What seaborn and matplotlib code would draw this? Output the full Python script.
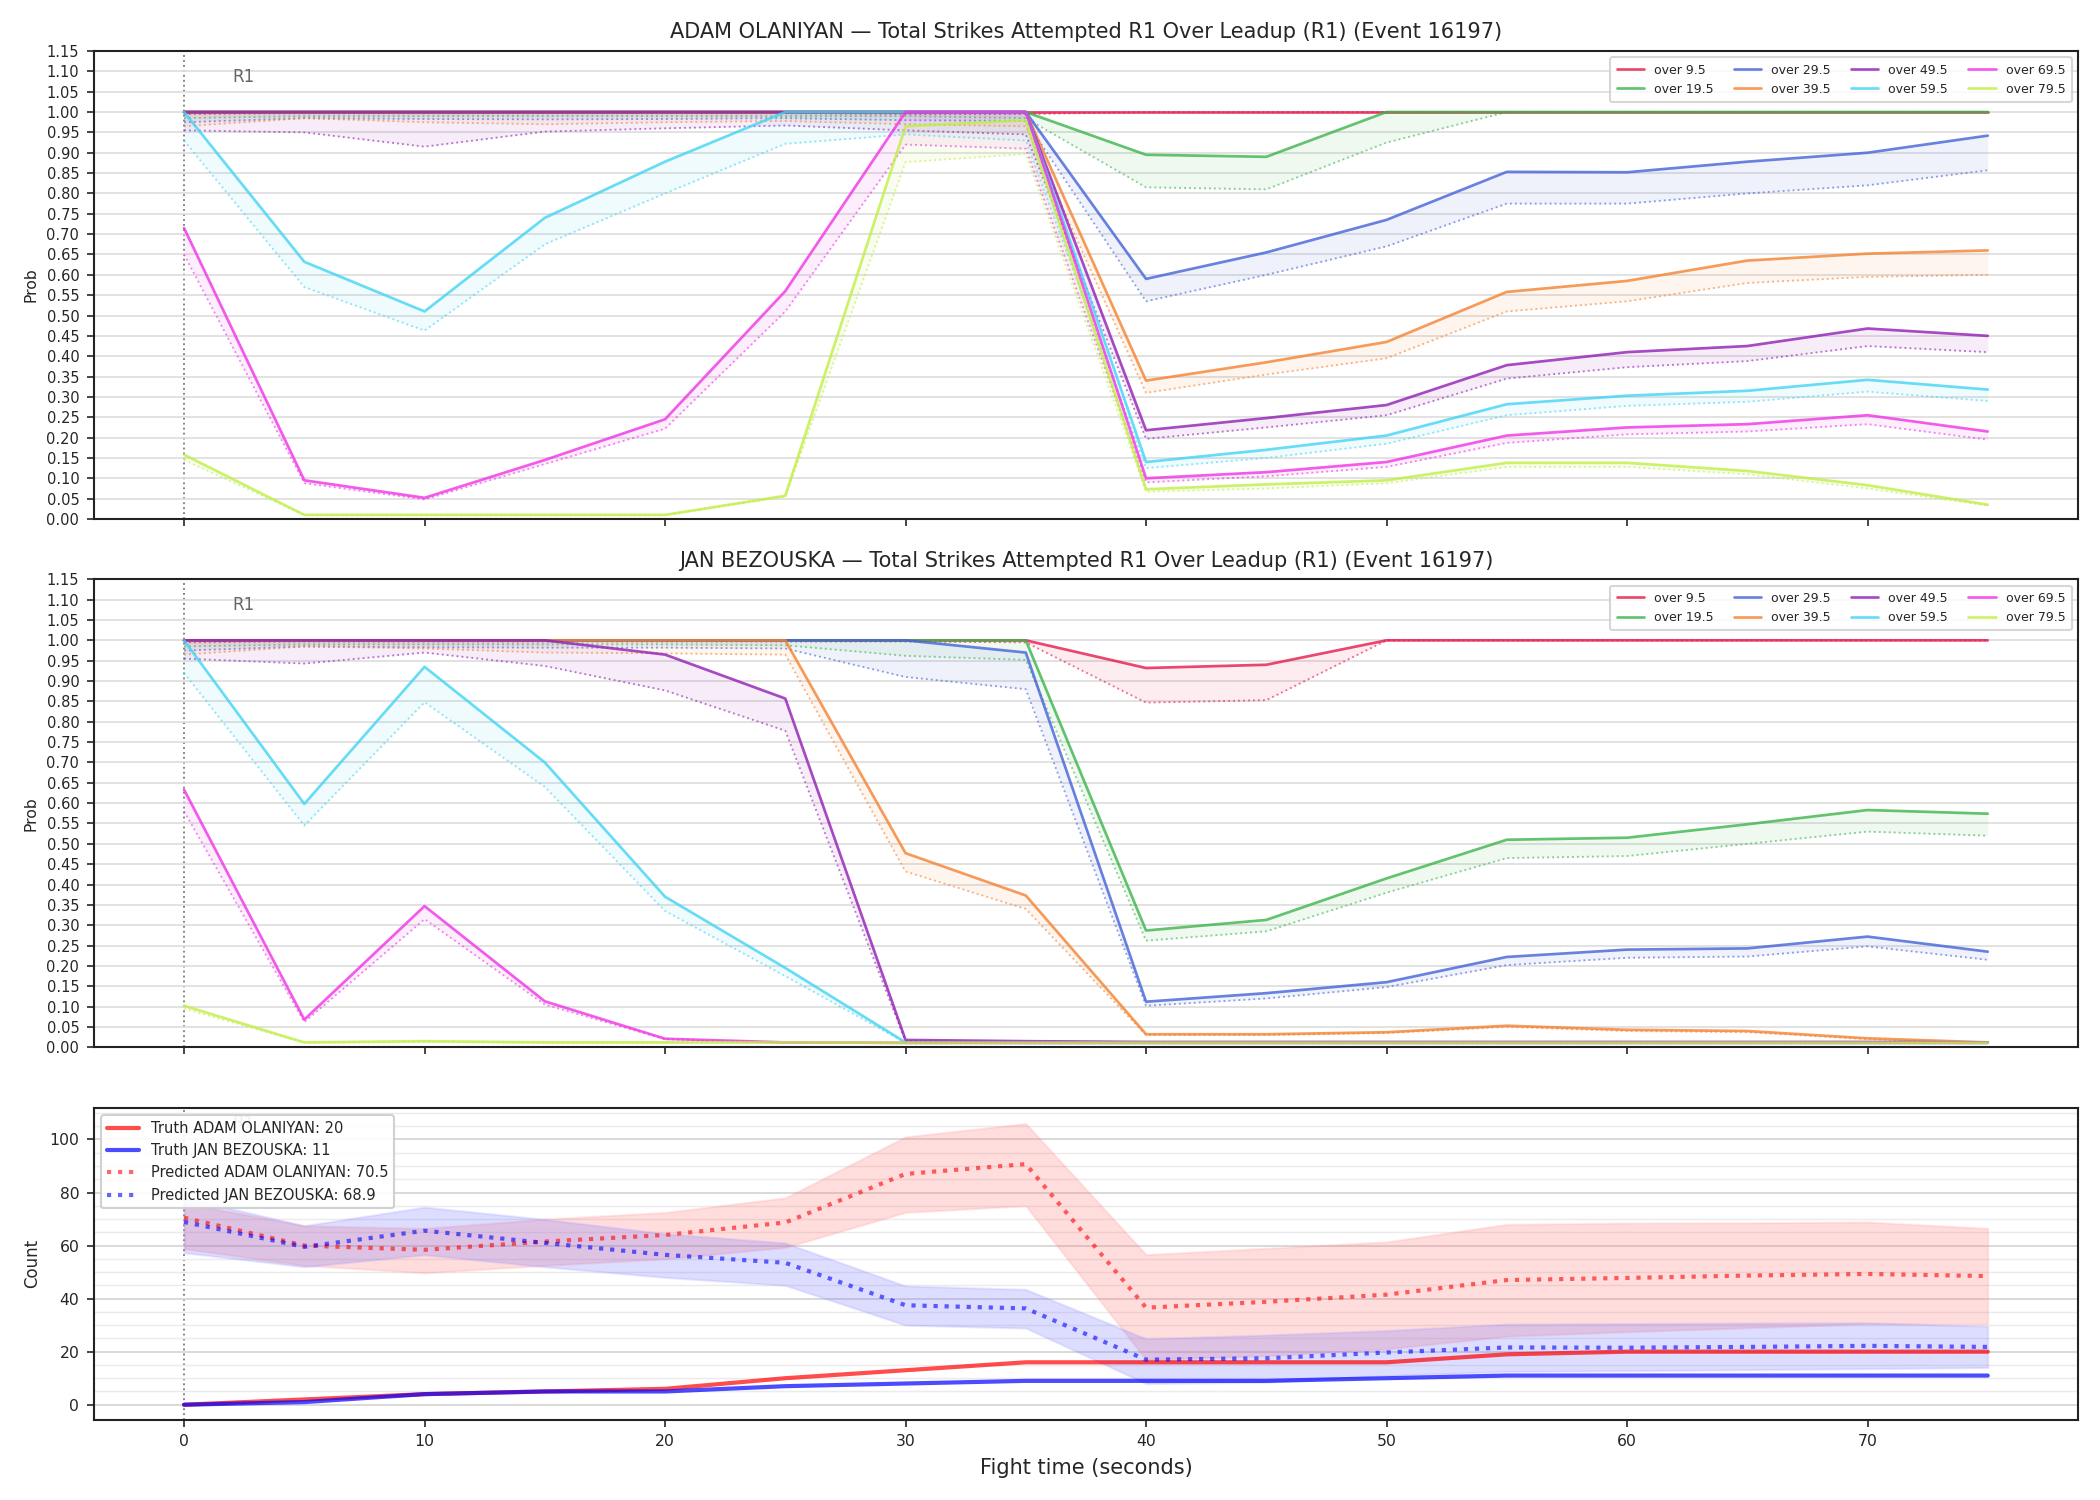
import numpy as np
import pandas as pd
import matplotlib
matplotlib.use("Agg")
import matplotlib.pyplot as plt
import matplotlib.transforms as mtransforms
import seaborn as sns

# ---------------- data ----------------
times = [0, 5, 10, 15, 20, 25, 30, 35, 40, 45, 50, 55, 60, 65, 70, 75]
lines_labels = ["over 9.5", "over 19.5", "over 29.5", "over 39.5",
                "over 49.5", "over 59.5", "over 69.5", "over 79.5"]
line_colors = ["#e6194b", "#3cb44b", "#4363d8", "#f58231",
               "#911eb4", "#42d4f4", "#f032e6", "#bfef45"]

# ADAM OLANIYAN: solid (upper) and dotted (lower) probability curves
adam_solid = {
    "over 9.5":  [1, 1, 1, 1, 1, 1, 1, 1, 1, 1, 1, 1, 1, 1, 1, 1],
    "over 19.5": [1, 1, 1, 1, 1, 1, 1, 1, 0.895, 0.89, 1, 1, 1, 1, 1, 1],
    "over 29.5": [1, 1, 1, 1, 1, 1, 1, 1, 0.59, 0.655, 0.735, 0.853, 0.852, 0.878, 0.90, 0.942],
    "over 39.5": [1, 1, 1, 1, 1, 1, 1, 1, 0.34, 0.385, 0.435, 0.558, 0.585, 0.635, 0.652, 0.66],
    "over 49.5": [1, 1, 1, 1, 1, 1, 1, 1, 0.218, 0.248, 0.28, 0.378, 0.41, 0.425, 0.468, 0.45],
    "over 59.5": [1.0, 0.632, 0.51, 0.74, 0.878, 1.0, 1.0, 1.0, 0.14, 0.17, 0.205, 0.282, 0.303, 0.315, 0.342, 0.318],
    "over 69.5": [0.715, 0.095, 0.052, 0.145, 0.245, 0.56, 1.0, 1.0, 0.10, 0.115, 0.14, 0.205, 0.225, 0.233, 0.255, 0.215],
    "over 79.5": [0.158, 0.01, 0.01, 0.01, 0.01, 0.057, 0.965, 0.98, 0.073, 0.085, 0.095, 0.138, 0.138, 0.118, 0.083, 0.035],
}
adam_dotted = {
    "over 9.5":  [0.995, 0.997, 0.997, 0.997, 0.997, 0.997, 0.995, 0.995, 1, 1, 1, 1, 1, 1, 1, 1],
    "over 19.5": [0.985, 0.99, 0.99, 0.99, 0.99, 0.99, 0.99, 0.985, 0.815, 0.81, 0.925, 1, 1, 1, 1, 1],
    "over 29.5": [0.975, 0.985, 0.983, 0.982, 0.983, 0.985, 0.98, 0.978, 0.535, 0.60, 0.67, 0.775, 0.775, 0.80, 0.82, 0.857],
    "over 39.5": [0.965, 0.985, 0.975, 0.97, 0.975, 0.978, 0.97, 0.965, 0.31, 0.355, 0.395, 0.51, 0.535, 0.58, 0.595, 0.60],
    "over 49.5": [0.955, 0.95, 0.915, 0.952, 0.96, 0.967, 0.955, 0.945, 0.197, 0.225, 0.255, 0.345, 0.373, 0.388, 0.425, 0.41],
    "over 59.5": [0.93, 0.57, 0.463, 0.675, 0.80, 0.922, 0.945, 0.93, 0.125, 0.15, 0.185, 0.255, 0.278, 0.288, 0.313, 0.29],
    "over 69.5": [0.65, 0.088, 0.048, 0.135, 0.222, 0.51, 0.92, 0.91, 0.09, 0.105, 0.128, 0.187, 0.208, 0.215, 0.233, 0.195],
    "over 79.5": [0.145, 0.01, 0.01, 0.01, 0.01, 0.055, 0.877, 0.897, 0.067, 0.075, 0.088, 0.128, 0.128, 0.11, 0.075, 0.033],
}

# JAN BEZOUSKA
jan_solid = {
    "over 9.5":  [1, 1, 1, 1, 1, 1, 1, 1, 0.932, 0.94, 1, 1, 1, 1, 1, 1],
    "over 19.5": [1, 1, 1, 1, 1, 1, 1, 1, 0.287, 0.313, 0.415, 0.51, 0.515, 0.548, 0.583, 0.574],
    "over 29.5": [1, 1, 1, 1, 1, 1, 1, 0.97, 0.112, 0.133, 0.16, 0.222, 0.24, 0.243, 0.272, 0.235],
    "over 39.5": [1, 1, 1, 1, 1, 1, 0.477, 0.373, 0.032, 0.032, 0.037, 0.053, 0.043, 0.04, 0.022, 0.012],
    "over 49.5": [1, 1, 1, 1, 0.965, 0.857, 0.018, 0.015, 0.013, 0.013, 0.013, 0.013, 0.013, 0.013, 0.013, 0.012],
    "over 59.5": [1.0, 0.598, 0.935, 0.70, 0.37, 0.195, 0.012, 0.011, 0.011, 0.011, 0.011, 0.011, 0.011, 0.011, 0.011, 0.011],
    "over 69.5": [0.633, 0.068, 0.347, 0.113, 0.021, 0.012, 0.011, 0.011, 0.011, 0.011, 0.011, 0.011, 0.011, 0.011, 0.011, 0.011],
    "over 79.5": [0.102, 0.012, 0.015, 0.012, 0.012, 0.012, 0.011, 0.011, 0.011, 0.011, 0.011, 0.011, 0.011, 0.011, 0.011, 0.011],
}
jan_dotted = {
    "over 9.5":  [0.995, 0.997, 0.997, 0.997, 0.997, 0.997, 0.997, 0.995, 0.847, 0.853, 1, 1, 1, 1, 1, 1],
    "over 19.5": [0.985, 0.99, 0.99, 0.99, 0.99, 0.988, 0.962, 0.952, 0.262, 0.285, 0.38, 0.465, 0.47, 0.50, 0.53, 0.52],
    "over 29.5": [0.975, 0.985, 0.983, 0.982, 0.982, 0.98, 0.91, 0.88, 0.102, 0.12, 0.148, 0.202, 0.22, 0.223, 0.248, 0.215],
    "over 39.5": [0.965, 0.985, 0.98, 0.97, 0.968, 0.965, 0.432, 0.34, 0.03, 0.03, 0.035, 0.05, 0.04, 0.037, 0.02, 0.011],
    "over 49.5": [0.955, 0.943, 0.97, 0.937, 0.877, 0.778, 0.015, 0.012, 0.011, 0.011, 0.011, 0.011, 0.011, 0.011, 0.011, 0.011],
    "over 59.5": [0.92, 0.545, 0.848, 0.64, 0.335, 0.175, 0.011, 0.01, 0.01, 0.01, 0.01, 0.01, 0.01, 0.01, 0.01, 0.01],
    "over 69.5": [0.58, 0.062, 0.315, 0.105, 0.02, 0.011, 0.01, 0.01, 0.01, 0.01, 0.01, 0.01, 0.01, 0.01, 0.01, 0.01],
    "over 79.5": [0.095, 0.011, 0.013, 0.011, 0.011, 0.011, 0.01, 0.01, 0.01, 0.01, 0.01, 0.01, 0.01, 0.01, 0.01, 0.01],
}

# Count panel
truth_adam = [0, 2, 4, 5, 6, 10, 13, 16, 16, 16, 16, 19, 20, 20, 20, 20]
truth_jan = [0, 1, 4, 5, 5, 7, 8, 9, 9, 9, 10, 11, 11, 11, 11, 11]
pred_adam = [70.5, 60, 58.4, 61.5, 64, 68.7, 87, 90.7, 36.6, 38.8, 41.5, 47, 47.8, 48.7, 49.3, 48.5]
pred_adam_lo = [58.8, 52.5, 49.7, 52.5, 55, 59.3, 72.5, 75, 17, 18.5, 21, 25.8, 27.5, 29, 30.5, 30.4]
pred_adam_hi = [76, 67.5, 66.5, 70, 72.5, 78, 101, 106, 56.6, 59, 61.4, 68, 68.5, 68.6, 68.9, 66.5]
pred_jan = [68.9, 59.5, 65.6, 61, 56.5, 53.5, 37.5, 36.3, 17, 17.5, 19.7, 21.6, 21.5, 21.8, 22.2, 21.8]
pred_jan_lo = [57.3, 52, 56.5, 52, 48, 45, 30, 28.9, 8, 8.5, 11, 12.5, 12.8, 13.2, 13.6, 14]
pred_jan_hi = [78, 67.5, 74.5, 69.9, 64.5, 61, 44.8, 43.5, 24.9, 26.3, 28, 30.4, 30.6, 30.8, 30.9, 29.6]

fighters = ["ADAM OLANIYAN", "JAN BEZOUSKA"]
title_tpl = "{} \u2014 Total Strikes Attempted R1 Over Leadup (R1) (Event 16197)"

# ---------------- plotting ----------------
sns.set_style("ticks")
plt.rcParams["font.family"] = ["DejaVu Sans"]

fig = plt.figure(figsize=(14, 10), dpi=150)
gs = fig.add_gridspec(3, 1, height_ratios=[3, 3, 2], left=0.0447, right=0.9895,
                      top=0.966, bottom=0.0536, hspace=0.145)
ax1 = fig.add_subplot(gs[0])
ax2 = fig.add_subplot(gs[1], sharex=ax1)
ax3 = fig.add_subplot(gs[2], sharex=ax1)

def prob_panel(ax, solid, dotted, name):
    for lab, col in zip(lines_labels, line_colors):
        df_s = pd.DataFrame({"t": times, "p": solid[lab]})
        df_d = pd.DataFrame({"t": times, "p": dotted[lab]})
        sns.lineplot(data=df_s, x="t", y="p", ax=ax, color=col, alpha=0.8,
                     linewidth=1.3, label=lab, zorder=3)
        sns.lineplot(data=df_d, x="t", y="p", ax=ax, color=col, alpha=0.6,
                     linewidth=0.9, linestyle=":", label="_nolegend_", zorder=2)
        ax.fill_between(times, dotted[lab], solid[lab], color=col, alpha=0.08,
                        linewidth=0, zorder=1)
    ax.set_ylim(0, 1.15)
    ax.set_yticks(np.round(np.arange(0, 1.1501, 0.05), 2))
    ax.set_yticklabels([f"{v:.2f}" for v in np.arange(0, 1.1501, 0.05)])
    ax.grid(axis="y", color="#dddddd", linewidth=0.8)
    ax.set_axisbelow(True)
    ax.set_ylabel("Prob", fontsize=7.5)
    ax.set_xlabel("")
    ax.set_title(title_tpl.format(name), fontsize=10)
    ax.tick_params(axis="both", labelsize=7)
    plt.setp(ax.get_xticklabels(), visible=False)
    leg = ax.legend(loc="upper right", ncol=4, fontsize=6, frameon=True,
                    handlelength=2.2, columnspacing=1.6, borderpad=0.5)
    leg.get_frame().set_edgecolor("#cccccc")
    ax.axvline(0, color="gray", linestyle=":", linewidth=0.9, zorder=0)
    trans = mtransforms.blended_transform_factory(ax.transData, ax.transAxes)
    ax.text(2, 0.945, "R1", transform=trans, color="#666666", fontsize=8,
            va="center", ha="left")

prob_panel(ax1, adam_solid, adam_dotted, fighters[0])
prob_panel(ax2, jan_solid, jan_dotted, fighters[1])

# count panel
df_cnt = pd.DataFrame({"t": times, "ta": truth_adam, "tj": truth_jan,
                       "pa": pred_adam, "pj": pred_jan})
ax3.fill_between(times, pred_adam_lo, pred_adam_hi, color="#ff6666", alpha=0.22,
                 linewidth=1.0, edgecolor="#ff9999", zorder=1)
ax3.fill_between(times, pred_jan_lo, pred_jan_hi, color="#6666ff", alpha=0.22,
                 linewidth=1.0, edgecolor="#9999ff", zorder=1)
sns.lineplot(data=df_cnt, x="t", y="ta", ax=ax3, color="red", alpha=0.7,
             linewidth=2, label=f"Truth {fighters[0]}: {truth_adam[-1]}", zorder=3)
sns.lineplot(data=df_cnt, x="t", y="tj", ax=ax3, color="blue", alpha=0.7,
             linewidth=2, label=f"Truth {fighters[1]}: {truth_jan[-1]}", zorder=3)
sns.lineplot(data=df_cnt, x="t", y="pa", ax=ax3, color="red", alpha=0.6,
             linewidth=2, linestyle=":", label=f"Predicted {fighters[0]}: {pred_adam[0]}", zorder=3)
sns.lineplot(data=df_cnt, x="t", y="pj", ax=ax3, color="blue", alpha=0.6,
             linewidth=2, linestyle=":", label=f"Predicted {fighters[1]}: {pred_jan[0]}", zorder=3)
ax3.set_ylim(-5.6, 112)
ax3.set_yticks([0, 20, 40, 60, 80, 100])
ax3.set_yticks(np.arange(0, 111, 5), minor=True)
ax3.tick_params(axis="y", which="minor", length=0)
ax3.grid(axis="y", which="major", color="#d8d8d8", linewidth=0.9)
ax3.grid(axis="y", which="minor", color="#ebebeb", linewidth=0.7)
ax3.set_axisbelow(True)
ax3.axvline(0, color="gray", linestyle=":", linewidth=0.9, zorder=0)
trans3 = mtransforms.blended_transform_factory(ax3.transData, ax3.transAxes)
ax3.text(2, 0.95, "R1", transform=trans3, color="#666666", fontsize=8,
         va="center", ha="left", zorder=0)
ax3.set_ylabel("Count", fontsize=8)
ax3.set_xlabel("Fight time (seconds)", fontsize=10)
ax3.tick_params(axis="both", labelsize=7.5)
leg3 = ax3.legend(loc="upper left", fontsize=7, frameon=True, framealpha=0.9,
                  handlelength=2.2)
leg3.get_frame().set_edgecolor("#cccccc")
ax3.set_xlim(-3.75, 78.75)
ax3.set_xticks([0, 10, 20, 30, 40, 50, 60, 70])

for ax in (ax1, ax2, ax3):
    for sp in ax.spines.values():
        sp.set_linewidth(1.0)
        sp.set_color("#222222")

fig.savefig("out.png", dpi=150)
